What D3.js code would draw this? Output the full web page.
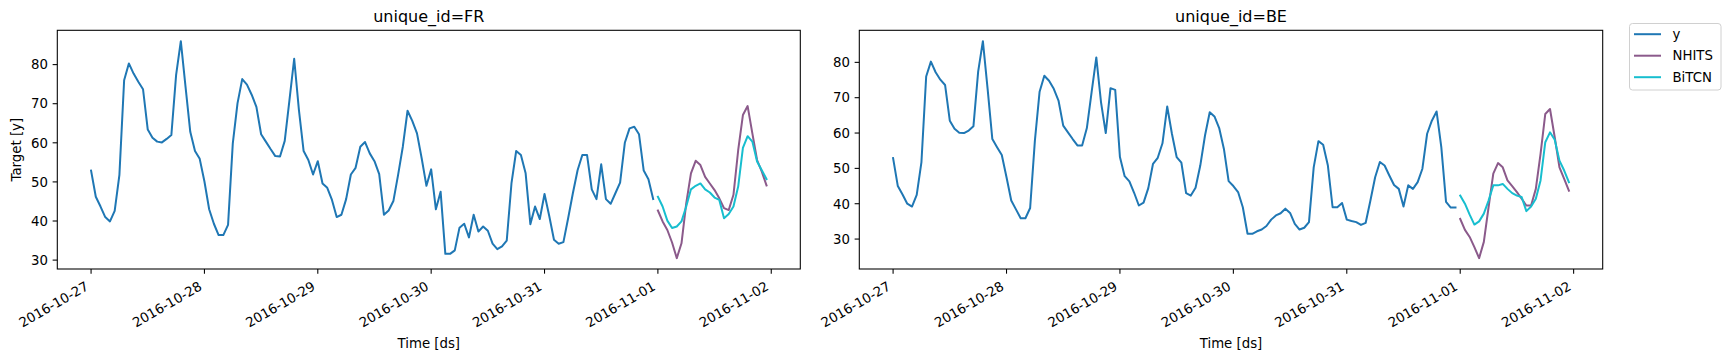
<!DOCTYPE html>
<html><head><meta charset="utf-8">
<script src="https://cdn.jsdelivr.net/npm/d3@7"></script>
<style>
html,body{margin:0;padding:0;background:#fff;}
text{font-family:"DejaVu Sans",sans-serif;fill:#000;}
</style></head>
<body>
<svg id="chart" width="1730" height="361"></svg>
<script>
// ---- data (hourly, starting 2016-10-27 00:00) ----
const seriesNames = ["y", "NHITS", "BiTCN"];
const xTickLabels = ["2016-10-27","2016-10-28","2016-10-29","2016-10-30","2016-10-31","2016-11-01","2016-11-02"];
const yTickLabels = [30, 40, 50, 60, 70, 80];
const panelIds = ["FR", "BE"];

const frY = [52.9,46.2,43.7,41.0,39.9,42.6,51.8,76.0,80.3,77.7,75.6,73.7,63.4,61.3,60.3,60.1,61.0,62.0,77.3,86.0,74.3,62.8,57.9,55.9,
 50.1,43.0,39.3,36.4,36.4,39.0,59.8,70.1,76.3,74.9,72.3,69.2,62.2,60.3,58.4,56.6,56.5,60.5,70.9,81.5,68.4,57.9,55.6,51.9,
 55.3,49.6,48.5,45.4,41.0,41.6,45.6,51.9,53.6,59.0,60.2,57.3,55.3,52.0,41.6,42.7,45.1,51.8,59.0,68.2,65.6,62.4,56.0,49.0,
 53.2,43.0,47.5,31.6,31.6,32.5,38.3,39.3,35.8,41.6,37.3,38.6,37.5,34.2,32.8,33.5,35.0,49.6,57.9,56.9,52.2,39.2,43.7,40.5,
 46.9,41.3,35.2,34.2,34.6,40.7,47.1,53.0,56.9,56.9,48.1,45.6,54.5,45.6,44.4,47.1,49.8,60.0,63.7,64.1,62.2,52.9,50.7,45.6];
const frNHITS = [42.7,39.9,37.7,34.5,30.5,34.3,44.5,52.2,55.4,54.3,51.3,49.6,47.9,45.8,43.3,42.8,46.7,58.1,67.1,69.4,62.4,55.6,52.6,49.1];
const frBiTCN = [46.2,43.7,40.1,38.2,38.6,39.9,43.7,48.1,49.0,49.6,48.1,47.3,46.0,45.4,40.7,41.8,43.7,48.8,58.7,61.7,60.3,55.2,53.0,50.7];

const beY = [52.9,45.0,42.6,40.0,39.2,42.5,51.8,76.0,80.2,77.2,75.1,73.6,63.5,61.2,60.1,60.0,60.7,61.9,77.4,86.0,72.5,58.3,56.0,53.8,
 47.5,40.9,38.4,35.9,35.9,38.8,57.8,71.7,76.2,74.8,72.5,69.2,62.1,60.2,58.3,56.5,56.5,61.4,71.5,81.4,68.7,60.0,72.7,72.2,
 53.2,47.8,46.3,43.1,39.5,40.3,44.4,51.3,53.0,57.1,67.5,59.8,53.2,51.6,43.0,42.3,44.5,50.8,59.3,65.9,64.7,61.4,55.5,46.4,
 45.0,43.3,39.0,31.5,31.5,32.2,32.7,33.7,35.5,36.7,37.3,38.6,37.4,34.3,32.7,33.2,34.8,50.3,57.7,56.7,50.8,39.0,39.0,40.2,
 35.5,35.1,34.8,34.0,34.6,40.9,47.5,51.8,50.8,48.0,45.3,44.2,39.2,45.2,44.2,46.1,49.9,59.8,63.5,66.1,56.0,40.5,38.9,38.9];
const beNHITS = [35.7,32.6,30.6,27.7,24.6,29.2,39.0,48.5,51.5,50.3,46.6,45.0,43.3,41.4,39.5,39.5,44.2,54.1,65.4,66.8,58.8,50.3,47.0,43.7];
const beBiTCN = [42.3,40.0,36.9,34.1,35.0,37.2,40.9,45.2,45.2,45.6,44.2,43.0,42.3,41.9,37.9,39.2,41.4,46.6,57.4,60.2,58.1,52.2,49.4,46.1];

const yStart = Date.UTC(2016, 9, 27, 0);     // first y observation
const fcStart = Date.UTC(2016, 10, 1, 0);    // first forecast hour
const HOUR = 3600e3;

// ---- style ----
const colors = {y: "#1f77b4", NHITS: "#8b5a8b", BiTCN: "#17becf"};
const svg = d3.select("#chart");
const axTop = 30.3, axBottom = 269;
const panels = [
  {id: "FR", x0: 57.3, x1: 800.3, y: frY, NHITS: frNHITS, BiTCN: frBiTCN, ylabel: true},
  {id: "BE", x0: 859.3, x1: 1602.7, y: beY, NHITS: beNHITS, BiTCN: beBiTCN, ylabel: false}
];
const tickLen = 4.67, pad = 4.67, fs = 13.3;

const toPts = (arr, start) => arr.map((v, i) => ({t: new Date(start + i * HOUR), v}));

panels.forEach(p => {
  const series = {y: toPts(p.y, yStart), NHITS: toPts(p.NHITS, fcStart), BiTCN: toPts(p.BiTCN, fcStart)};
  const all = [].concat(series.y, series.NHITS, series.BiTCN);
  const tExt = d3.extent(all, d => +d.t), vExt = d3.extent(all, d => d.v);
  const tPad = (tExt[1] - tExt[0]) * 0.05, vPad = (vExt[1] - vExt[0]) * 0.05;
  const x = d3.scaleUtc().domain([tExt[0] - tPad, tExt[1] + tPad]).range([p.x0, p.x1]);
  const y = d3.scaleLinear().domain([vExt[0] - vPad, vExt[1] + vPad]).range([axBottom, axTop]);
  const g = svg.append("g");

  // lines
  const line = d3.line().x(d => x(d.t)).y(d => y(d.v));
  seriesNames.forEach(s => {
    g.append("path").datum(series[s]).attr("d", line).attr("fill", "none")
      .attr("stroke", colors[s]).attr("stroke-width", 2).attr("stroke-linejoin", "round").attr("stroke-linecap", "square");
  });

  // x axis ticks
  const xt = xTickLabels.map(s => new Date(s + "T00:00:00Z"));
  const xa = g.append("g");
  xt.forEach((d, i) => {
    const tx = x(d);
    xa.append("line").attr("x1", tx).attr("x2", tx).attr("y1", axBottom).attr("y2", axBottom + tickLen)
      .attr("stroke", "#000").attr("stroke-width", 1.07);
    xa.append("text").attr("text-anchor", "end").attr("font-size", fs)
      .attr("transform", `translate(${tx - 1.6},${axBottom + tickLen + pad + 10.8}) rotate(-30)`)
      .text(xTickLabels[i]);
  });
  // y axis ticks
  yTickLabels.forEach(v => {
    const ty = y(v);
    g.append("line").attr("x1", p.x0 - tickLen).attr("x2", p.x0).attr("y1", ty).attr("y2", ty)
      .attr("stroke", "#000").attr("stroke-width", 1.07);
    g.append("text").attr("x", p.x0 - tickLen - pad).attr("y", ty).attr("dy", "0.36em")
      .attr("text-anchor", "end").attr("font-size", fs).text(v);
  });

  // frame
  g.append("rect").attr("x", p.x0).attr("y", axTop).attr("width", p.x1 - p.x0).attr("height", axBottom - axTop)
    .attr("fill", "none").attr("stroke", "#000").attr("stroke-width", 1.07);

  // title & labels
  g.append("text").attr("x", (p.x0 + p.x1) / 2).attr("y", 21.5).attr("text-anchor", "middle")
    .attr("font-size", 16).text("unique_id=" + p.id);
  g.append("text").attr("x", (p.x0 + p.x1) / 2).attr("y", 348).attr("text-anchor", "middle")
    .attr("font-size", fs).text("Time [ds]");
  if (p.ylabel) {
    g.append("text").attr("transform", `translate(20.5,${(axTop + axBottom) / 2}) rotate(-90)`)
      .attr("text-anchor", "middle").attr("font-size", fs).text("Target [y]");
  }
});

// legend
const lg = svg.append("g");
lg.append("rect").attr("x", 1629.5).attr("y", 23.5).attr("width", 91.5).attr("height", 66.5)
  .attr("rx", 3).attr("fill", "#fff").attr("fill-opacity", 0.8).attr("stroke", "#d0d0d0").attr("stroke-width", 1);
seriesNames.forEach((s, i) => {
  const cy = 34.2 + i * 21.5;
  lg.append("line").attr("x1", 1634).attr("x2", 1661).attr("y1", cy).attr("y2", cy)
    .attr("stroke", colors[s]).attr("stroke-width", 2);
  lg.append("text").attr("x", 1672.5).attr("y", cy).attr("dy", "0.36em").attr("font-size", fs).text(s);
});
</script>
</body></html>
